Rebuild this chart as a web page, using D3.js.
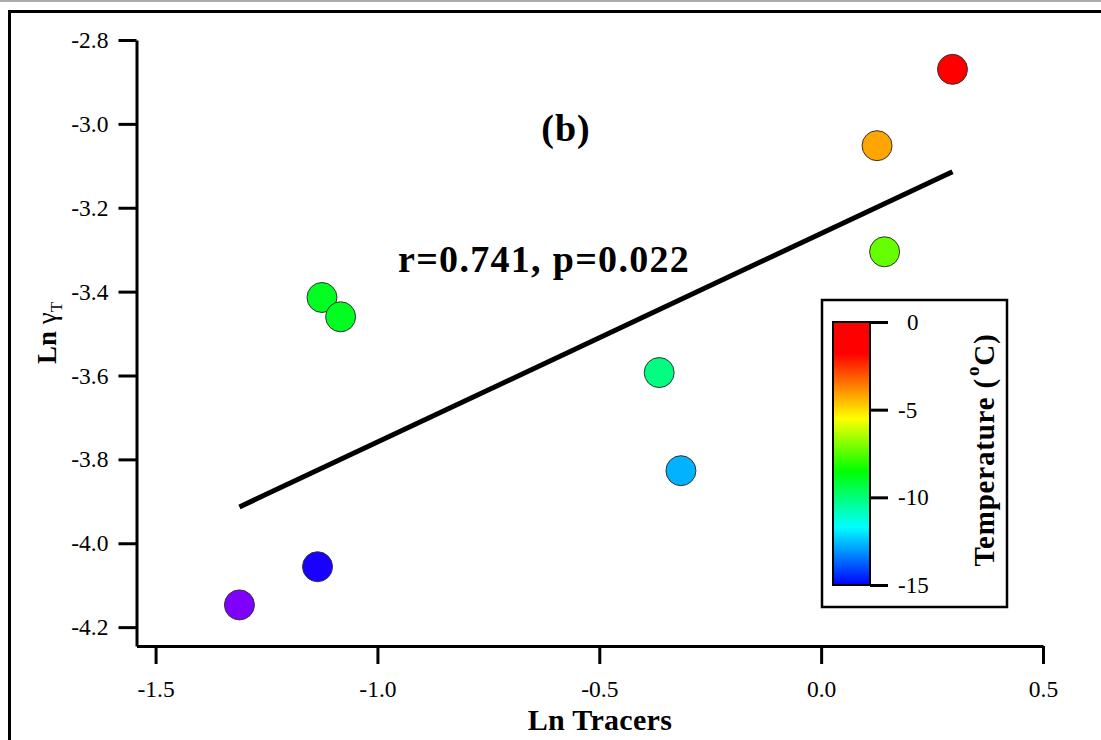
<!DOCTYPE html>
<html>
<head>
<meta charset="utf-8">
<script src="https://cdn.jsdelivr.net/npm/d3@7"></script>
<style>
  html, body { margin: 0; padding: 0; background: #fff; }
  svg { display: block; }
  text { font-family: "Liberation Serif", "Times New Roman", serif; fill: #000; }
</style>
</head>
<body>
<svg id="chart" width="1101" height="740"></svg>
<script>
// ---- data ----
const lnTracers   = [-1.311, -1.135, -1.125, -1.083, -0.365, -0.316, 0.126, 0.143, 0.296];
const lnGammaT    = [-4.147, -4.056, -3.414, -3.460, -3.593, -3.827, -3.052, -3.305, -2.870];
const temperature = [-17.0, -15.4, -8.9, -8.9, -10.1, -12.7, -4.2, -7.3, 0.0];
const xTicks = [-1.5, -1.0, -0.5, 0.0, 0.5];
const yTicks = [-4.2, -4.0, -3.8, -3.6, -3.4, -3.2, -3.0, -2.8];
const cbTicks = [0, -5, -10, -15];
const colorStops = [0, -1.8, -5.5, -8.5, -11.7, -15, -17];
const colorValues = ["#ff0000", "#ff0000", "#ffff00", "#00ff00", "#00ffff", "#0000ff", "#8000ff"];
const statText = "r=0.741, p=0.022";
const panelText = "(b)";

const svg = d3.select("#chart");

// page decorations
svg.append("line").attr("x1", 0).attr("x2", 1101).attr("y1", 1).attr("y2", 1)
  .attr("stroke", "#aaa").attr("stroke-width", 2);
svg.append("rect").attr("x", 9.5).attr("y", 11.5).attr("width", 1200).attr("height", 1000)
  .attr("fill", "none").attr("stroke", "#000").attr("stroke-width", 3);

const x = d3.scaleLinear().domain([-1.543, 0.5]).range([136.5, 1043]);
const y = d3.scaleLinear().domain([-4.245, -2.8]).range([646, 40]);
const color = d3.scaleLinear().domain(colorStops).range(colorValues).clamp(true);
const fmt1 = d => d.toFixed(1);

// axes
const gx = svg.append("g").attr("transform", `translate(0,646)`)
  .call(d3.axisBottom(x).tickValues(xTicks).tickFormat(fmt1).tickSize(18).tickSizeOuter(0).tickPadding(16));
const gy = svg.append("g").attr("transform", `translate(136.5,0)`)
  .call(d3.axisLeft(y).tickValues(yTicks).tickFormat(fmt1).tickSize(18).tickSizeOuter(0).tickPadding(10));
[gx, gy].forEach(g => {
  g.select(".domain").attr("stroke", "#000").attr("stroke-width", 3);
  g.selectAll(".tick line").attr("stroke", "#000").attr("stroke-width", 3);
  g.selectAll(".tick text").attr("font-size", 23.5).attr("font-family", "Liberation Serif").attr("fill", "#000");
});

// axis titles
svg.append("text").attr("x", 600).attr("y", 730).attr("text-anchor", "middle")
  .attr("font-size", 30).attr("font-weight", "bold").attr("letter-spacing", 0.3).text("Ln Tracers");
const yt = svg.append("text").attr("transform", "translate(56,333) rotate(-90)")
  .attr("text-anchor", "middle");
yt.append("tspan").attr("font-size", 27).attr("font-weight", "bold").text("Ln ");
yt.append("tspan").attr("font-size", 27).text("γ");
yt.append("tspan").attr("font-size", 17).attr("dy", 6).text("T");

// regression line computed from data
const n = lnTracers.length;
const mx = d3.mean(lnTracers), my = d3.mean(lnGammaT);
let sxy = 0, sxx = 0;
for (let i = 0; i < n; i++) { sxy += (lnTracers[i]-mx)*(lnGammaT[i]-my); sxx += (lnTracers[i]-mx)**2; }
const slope = sxy / sxx, icpt = my - slope * mx;
const [x0, x1] = d3.extent(lnTracers);
svg.append("line")
  .attr("x1", x(x0)).attr("y1", y(icpt + slope * x0))
  .attr("x2", x(x1)).attr("y2", y(icpt + slope * x1))
  .attr("stroke", "#000").attr("stroke-width", 5);

// points
svg.append("g").selectAll("circle").data(d3.range(n)).join("circle")
  .attr("cx", i => x(lnTracers[i])).attr("cy", i => y(lnGammaT[i])).attr("r", 15)
  .attr("fill", i => color(temperature[i])).attr("stroke", "#333").attr("stroke-width", 1);

// annotations
svg.append("text").attr("x", 566).attr("y", 141).attr("text-anchor", "middle")
  .attr("font-size", 38).attr("font-weight", "bold").attr("letter-spacing", 1).text(panelText);
svg.append("text").attr("x", 398).attr("y", 272)
  .attr("font-size", 38).attr("font-weight", "bold").attr("letter-spacing", 1.3).text(statText);

// colorbar
const cb = svg.append("g");
cb.append("rect").attr("x", 822).attr("y", 300).attr("width", 185).attr("height", 307)
  .attr("fill", "#fff").attr("stroke", "#000").attr("stroke-width", 2.5);
const cs = d3.scaleLinear().domain([0, -15]).range([322, 585]);
const grad = svg.append("defs").append("linearGradient").attr("id", "cbgrad")
  .attr("x1", 0).attr("y1", 0).attr("x2", 0).attr("y2", 1);
colorStops.filter(s => s >= -15).forEach(s => {
  grad.append("stop").attr("offset", (s / -15)).attr("stop-color", color(s));
});
cb.append("rect").attr("x", 833).attr("y", cs(0)).attr("width", 37).attr("height", cs(-15) - cs(0))
  .attr("fill", "url(#cbgrad)").attr("stroke", "#000").attr("stroke-width", 2);
const gcb = cb.append("g").attr("transform", "translate(870,0)")
  .call(d3.axisRight(cs).tickValues(cbTicks).tickFormat(d => String(d)).tickSize(18).tickSizeOuter(0).tickPadding(10));
gcb.select(".domain").remove();
gcb.selectAll(".tick line").attr("stroke", "#000").attr("stroke-width", 3);
gcb.selectAll(".tick text").attr("font-size", 23).attr("font-family", "Liberation Serif").attr("fill", "#000")
  .attr("dx", d => d >= 0 ? 9 : 0);
const ct = cb.append("text").attr("transform", "translate(994,450) rotate(-90)")
  .attr("text-anchor", "middle").attr("font-size", 29).attr("font-weight", "bold").attr("letter-spacing", 0.8);
ct.append("tspan").text("Temperature (");
ct.append("tspan").attr("font-size", 19).attr("dy", -15).attr("dx", 2).text("o");
ct.append("tspan").attr("dy", 15).text("C)");
</script>
</body>
</html>
